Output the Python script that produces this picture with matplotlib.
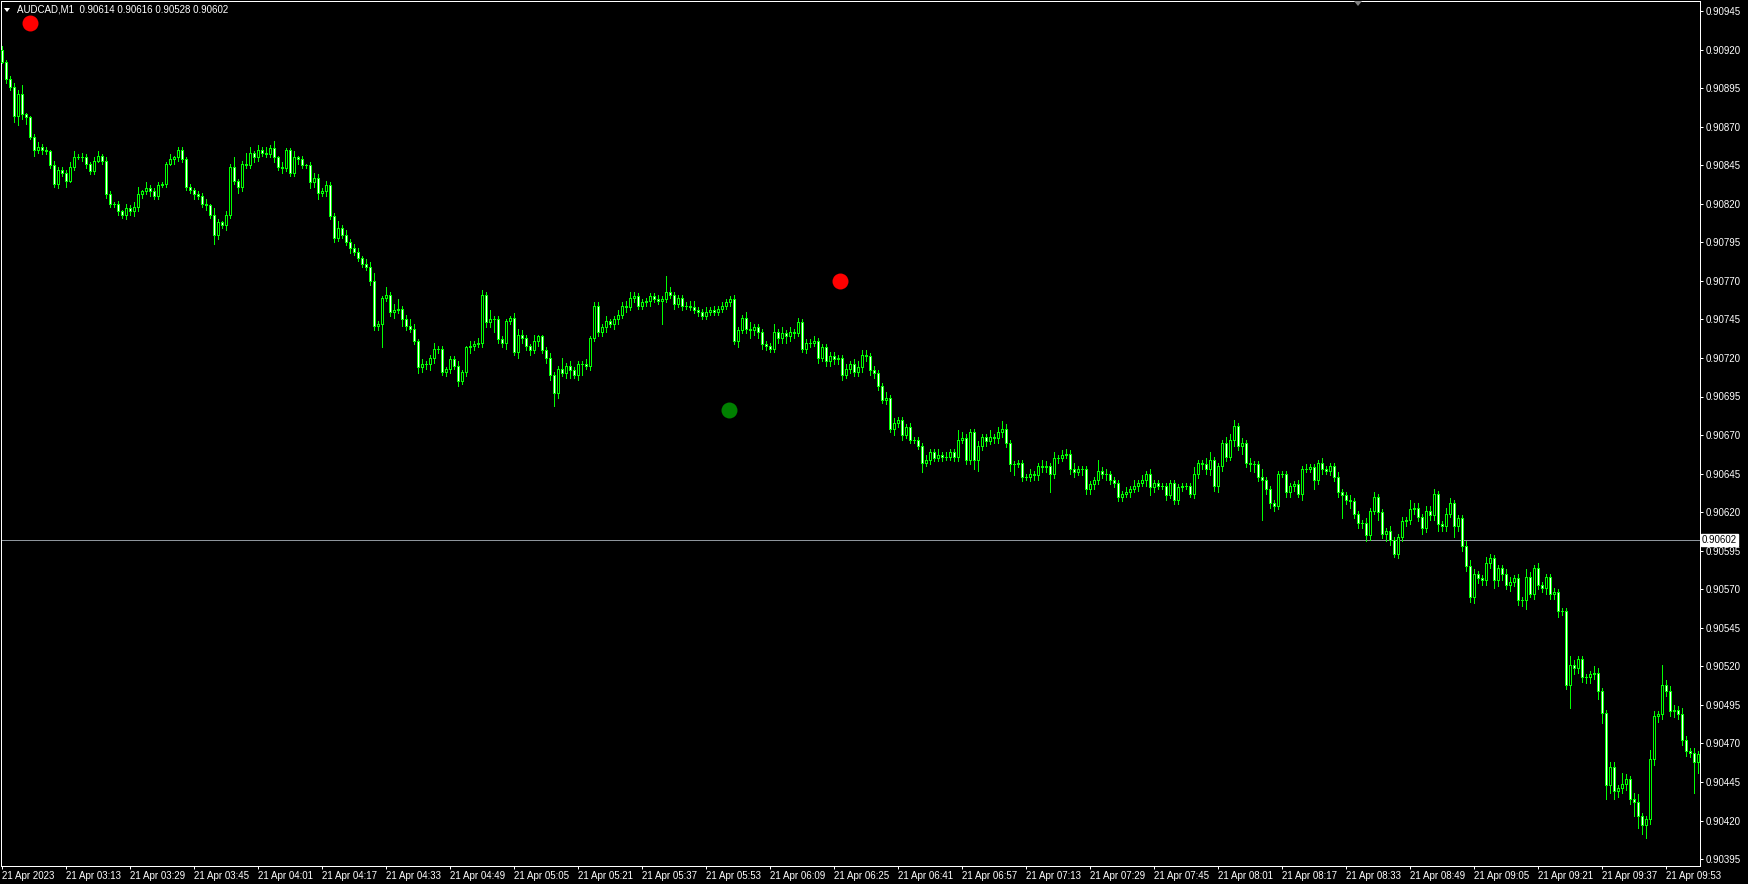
import numpy as np
import matplotlib
matplotlib.use('Agg')
import matplotlib.pyplot as plt
from matplotlib.collections import LineCollection, PolyCollection
from matplotlib.patches import Polygon

plt.rcParams['font.family'] = ['Liberation Sans', 'DejaVu Sans']

# AUDCAD M1, prices in points above 0.90000
symbol = 'AUDCAD,M1'
header_ohlc = ['0.90614', '0.90616', '0.90528', '0.90602']
first_open = 920
closes = [
    912, 901, 896, 877, 891, 878, 876, 863, 855, 857, 855, 854, 845, 833, 842, 840, 835, 844, 850, 850,
    850, 846, 841, 848, 851, 848, 826, 820, 820, 815, 813, 817, 815, 818, 826, 828, 830, 828, 825, 832,
    833, 846, 849, 850, 855, 849, 831, 829, 826, 825, 820, 819, 813, 800, 808, 806, 813, 844, 835, 831,
    846, 845, 853, 850, 855, 853, 852, 856, 850, 844, 843, 855, 840, 850, 849, 845, 845, 834, 837, 827,
    828, 832, 812, 798, 804, 800, 795, 791, 789, 785, 781, 779, 770, 741, 742, 759, 761, 750, 751, 752,
    745, 741, 739, 731, 714, 716, 716, 720, 726, 726, 711, 713, 719, 715, 705, 711, 727, 728, 729, 730,
    761, 743, 745, 745, 732, 730, 744, 746, 724, 735, 733, 728, 725, 731, 734, 725, 720, 709, 697, 713,
    710, 715, 712, 709, 716, 716, 715, 733, 754, 737, 740, 744, 742, 745, 748, 754, 753, 759, 760, 754,
    756, 757, 760, 758, 757, 758, 763, 761, 755, 759, 754, 754, 753, 751, 750, 747, 750, 751, 750, 752,
    754, 756, 758, 731, 738, 746, 739, 738, 740, 737, 729, 728, 726, 737, 733, 736, 734, 737, 736, 743,
    726, 730, 730, 731, 720, 727, 718, 721, 719, 720, 709, 713, 716, 711, 714, 722, 721, 712, 710, 702,
    693, 694, 674, 678, 680, 670, 675, 667, 667, 663, 652, 654, 659, 655, 657, 656, 656, 659, 656, 667,
    668, 654, 672, 654, 663, 669, 666, 669, 668, 672, 674, 665, 651, 651, 652, 643, 643, 645, 644, 650,
    649, 650, 645, 655, 655, 657, 658, 648, 646, 648, 648, 635, 638, 641, 647, 645, 645, 641, 639, 630,
    632, 633, 635, 637, 639, 641, 645, 636, 639, 637, 637, 631, 639, 628, 636, 637, 637, 632, 645, 652,
    651, 648, 654, 637, 650, 665, 656, 667, 676, 663, 665, 652, 651, 651, 643, 641, 635, 626, 624, 645,
    645, 633, 637, 638, 632, 648, 648, 649, 641, 652, 648, 647, 650, 643, 633, 631, 628, 627, 619, 613,
    613, 605, 621, 630, 620, 606, 608, 602, 593, 604, 614, 615, 622, 623, 617, 610, 621, 618, 632, 612,
    611, 619, 626, 611, 616, 598, 585, 565, 580, 577, 576, 587, 590, 576, 584, 580, 573, 575, 577, 563,
    563, 578, 567, 584, 573, 571, 578, 567, 568, 556, 556, 508, 521, 519, 525, 513, 513, 515, 516, 504,
    490, 443, 455, 439, 441, 444, 447, 434, 432, 423, 417, 421, 460, 488, 489, 508, 504, 491, 492, 489,
    472, 465, 464, 458, 463,
]
upper_wick = [
    2, 1, 2, 2, 3, 6, 1, 1, 2, 3, 2, 2, 1, 3, 2, 2, 2, 3, 4, 2,
    3, 2, 1, 2, 3, 1, 2, 2, 1, 2, 1, 3, 2, 3, 5, 1, 4, 2, 2, 2,
    1, 1, 3, 1, 2, 2, 1, 2, 1, 2, 2, 3, 1, 4, 2, 1, 2, 2, 6, 1,
    2, 7, 4, 1, 3, 2, 4, 2, 5, 1, 3, 1, 1, 4, 1, 2, 1, 2, 3, 2,
    2, 3, 2, 2, 5, 2, 3, 2, 3, 2, 1, 3, 3, 5, 2, 1, 5, 2, 4, 6,
    2, 3, 4, 3, 1, 3, 2, 2, 4, 2, 2, 1, 2, 2, 3, 1, 1, 3, 2, 3,
    3, 2, 6, 2, 2, 2, 1, 1, 3, 4, 3, 2, 1, 4, 1, 1, 2, 3, 2, 2,
    7, 2, 3, 2, 2, 2, 3, 1, 2, 2, 2, 3, 1, 2, 3, 2, 3, 4, 3, 2,
    2, 2, 2, 2, 3, 2, 10, 3, 2, 2, 2, 2, 3, 4, 2, 2, 3, 2, 3, 2,
    2, 2, 2, 3, 2, 2, 4, 4, 2, 2, 2, 2, 2, 5, 2, 4, 2, 3, 2, 3,
    2, 2, 2, 3, 2, 2, 2, 3, 3, 2, 2, 3, 2, 3, 4, 3, 3, 2, 3, 2,
    2, 4, 2, 3, 2, 2, 2, 3, 2, 2, 2, 3, 2, 2, 4, 2, 3, 2, 2, 6,
    4, 3, 2, 2, 3, 2, 2, 4, 2, 3, 5, 3, 2, 2, 2, 2, 2, 3, 2, 2,
    4, 3, 2, 4, 2, 3, 3, 2, 4, 2, 2, 2, 2, 2, 7, 2, 3, 2, 2, 2,
    2, 3, 2, 4, 2, 3, 2, 3, 2, 2, 2, 2, 2, 2, 2, 2, 2, 2, 4, 2,
    2, 4, 5, 2, 2, 2, 4, 4, 4, 2, 3, 2, 3, 2, 2, 5, 2, 2, 2, 2,
    2, 2, 2, 2, 3, 2, 3, 2, 2, 2, 3, 2, 2, 2, 3, 2, 2, 3, 2, 2,
    2, 3, 2, 3, 2, 2, 2, 3, 2, 2, 3, 2, 6, 3, 3, 2, 3, 3, 3, 2,
    2, 4, 3, 2, 2, 2, 3, 4, 3, 2, 2, 4, 3, 2, 2, 2, 3, 3, 2, 3,
    2, 5, 3, 2, 3, 2, 2, 2, 3, 2, 2, 2, 6, 3, 2, 2, 2, 2, 4, 3,
    2, 2, 3, 3, 2, 7, 3, 2, 4, 5, 2, 2, 6, 3, 2, 13, 3, 3, 3, 2,
    4, 3, 2, 3, 2,
]
lower_wick = [
    1, 3, 2, 4, 6, 3, 4, 1, 4, 2, 3, 2, 2, 2, 3, 2, 4, 1, 2, 1,
    2, 3, 2, 2, 1, 2, 2, 2, 2, 2, 2, 3, 2, 3, 3, 2, 2, 3, 2, 2,
    1, 2, 1, 3, 2, 2, 2, 2, 3, 2, 2, 3, 2, 6, 3, 2, 3, 2, 2, 4,
    3, 2, 2, 3, 2, 2, 2, 2, 3, 2, 3, 2, 2, 2, 3, 2, 2, 4, 3, 4,
    2, 3, 2, 3, 2, 2, 2, 3, 2, 2, 2, 2, 3, 3, 3, 15, 2, 3, 4, 2,
    4, 3, 2, 2, 4, 3, 3, 4, 3, 3, 2, 3, 3, 2, 3, 2, 3, 4, 3, 2,
    3, 3, 3, 8, 2, 3, 4, 2, 2, 4, 3, 3, 3, 2, 3, 2, 3, 3, 8, 3,
    2, 3, 5, 2, 3, 7, 2, 3, 2, 3, 3, 3, 2, 3, 3, 2, 3, 2, 3, 2,
    2, 2, 3, 2, 2, 15, 2, 2, 3, 2, 3, 2, 2, 2, 3, 2, 2, 2, 2, 2,
    2, 2, 2, 2, 4, 2, 3, 5, 3, 4, 3, 3, 2, 2, 3, 3, 4, 3, 3, 2,
    2, 3, 3, 2, 3, 2, 3, 3, 3, 3, 3, 2, 3, 3, 3, 3, 3, 3, 3, 3,
    2, 3, 2, 4, 3, 3, 2, 2, 2, 2, 6, 2, 3, 2, 2, 3, 2, 2, 3, 3,
    2, 3, 3, 6, 7, 3, 3, 2, 3, 3, 3, 3, 4, 7, 2, 3, 2, 3, 3, 3,
    3, 3, 12, 3, 3, 2, 2, 3, 3, 2, 4, 3, 3, 3, 3, 3, 4, 3, 3, 3,
    3, 2, 3, 2, 3, 2, 4, 5, 3, 2, 2, 3, 2, 3, 3, 2, 2, 2, 3, 3,
    3, 3, 4, 3, 4, 3, 3, 2, 4, 3, 5, 3, 4, 5, 3, 26, 3, 3, 3, 2,
    2, 3, 3, 3, 2, 4, 2, 2, 6, 3, 3, 2, 3, 3, 3, 15, 3, 4, 3, 3,
    3, 4, 3, 2, 5, 3, 5, 3, 2, 3, 3, 3, 3, 3, 3, 4, 3, 3, 3, 4,
    3, 3, 2, 7, 3, 3, 3, 3, 4, 3, 3, 3, 3, 5, 4, 4, 3, 4, 3, 3,
    4, 6, 2, 3, 3, 3, 4, 3, 3, 4, 3, 3, 15, 4, 3, 3, 4, 4, 3, 5,
    7, 9, 5, 5, 4, 3, 4, 3, 9, 8, 6, 8, 3, 4, 4, 3, 3, 3, 4, 3,
    3, 3, 3, 20, 7,
]
bid_price = 0.90602
time_labels = ['21 Apr 2023', '21 Apr 03:13', '21 Apr 03:29', '21 Apr 03:45', '21 Apr 04:01',
               '21 Apr 04:17', '21 Apr 04:33', '21 Apr 04:49', '21 Apr 05:05', '21 Apr 05:21',
               '21 Apr 05:37', '21 Apr 05:53', '21 Apr 06:09', '21 Apr 06:25', '21 Apr 06:41',
               '21 Apr 06:57', '21 Apr 07:13', '21 Apr 07:29', '21 Apr 07:45', '21 Apr 08:01',
               '21 Apr 08:17', '21 Apr 08:33', '21 Apr 08:49', '21 Apr 09:05', '21 Apr 09:21',
               '21 Apr 09:37', '21 Apr 09:53']
label_every = 16
price_ticks_pts = list(range(395, 946, 25))
# signal dots: bar position, price in points
dot_bars = [7, 181.75, 209.6]
dot_pts = [937, 686, 770]
dot_colors = ['#ff0000', '#008000', '#ff0000']

base = 0.9
pt = 1e-5
n = len(closes)
assert len(upper_wick) == n and len(lower_wick) == n

opens = [first_open] + closes[:-1]
o = base + np.array(opens) * pt
c = base + np.array(closes) * pt
hi = np.maximum(o, c) + np.array(upper_wick) * pt
lo = np.minimum(o, c) - np.array(lower_wick) * pt
x = np.arange(n)

W, H = 1748, 884
px = 0.72  # 1 pixel in points at dpi 100
lime = '#00ff00'

fig = plt.figure(figsize=(W / 100, H / 100), dpi=100, facecolor='black')
ax = fig.add_axes([1 / W, 18 / H, 1699 / W, 865 / H])
ax.set_facecolor('black')
ax.set_xlim(-0.25, 424.5)
ax.set_ylim(0.90945 - 855 / 154200, 0.90945 + 10 / 154200)

# bid line
ax.axhline(bid_price, color='#8e959c', lw=px, zorder=1)

# wicks
segs = [[(x[i], lo[i]), (x[i], hi[i])] for i in range(n)]
ax.add_collection(LineCollection(segs, colors=lime, linewidths=px, antialiased=False, zorder=2))

# bodies
hw = 0.25
polys, fcs = [], []
for i in range(n):
    b0, b1 = min(o[i], c[i]), max(o[i], c[i])
    polys.append([(x[i] - hw, b0), (x[i] + hw, b0), (x[i] + hw, b1), (x[i] - hw, b1)])
    fcs.append('black' if c[i] >= o[i] else 'white')
ax.add_collection(PolyCollection(polys, facecolors=fcs, edgecolors=lime, linewidths=px,
                                 antialiased=False, zorder=3))

# signal dots
for bx, bp, col in zip(dot_bars, dot_pts, dot_colors):
    ax.plot(bx, base + bp * pt, 'o', color=col, ms=11.5, mec='none', zorder=4)

# axes styling
for s in ax.spines.values():
    s.set_color('white')
    s.set_linewidth(px)

ax.yaxis.tick_right()
ax.set_yticks([base + p * pt for p in price_ticks_pts])
ax.set_yticklabels(['%.5f' % (base + p * pt) for p in price_ticks_pts])
ax.tick_params(axis='y', colors='white', labelsize=7, length=2.2, width=px, pad=2, direction='out')

xt = [k * label_every for k in range(len(time_labels))]
ax.set_xticks(xt)
ax.set_xticklabels(time_labels, ha='left')
ax.tick_params(axis='x', colors='white', labelsize=7, length=2.2, width=px, pad=1.5, direction='out')
for lab in ax.get_xticklabels():
    lab.set_x(0)

# bid label on price scale
ax.text(1.0 + 2 / 1699, bid_price, '%.5f' % bid_price, transform=ax.get_yaxis_transform(),
        fontsize=7, color='black', va='center', ha='left',
        bbox=dict(boxstyle='square,pad=0.12', fc='white', ec='white'), zorder=10, clip_on=False)

# header
fig.text(17 / W, 1 - 10 / H, symbol + '  ' + ' '.join(header_ohlc), color='white',
         fontsize=7, va='center', ha='left')
fig.patches.append(Polygon([[4 / W, 1 - 8 / H], [10 / W, 1 - 8 / H], [7 / W, 1 - 12 / H]],
                           closed=True, fc='white', ec='none', transform=fig.transFigure))
# chart shift marker
fig.patches.append(Polygon([[1354 / W, 1 - 1 / H], [1362 / W, 1 - 1 / H], [1358 / W, 1 - 6 / H]],
                           closed=True, fc='#808080', ec='none', transform=fig.transFigure))

fig.savefig('out.png', dpi=100, facecolor='black')
